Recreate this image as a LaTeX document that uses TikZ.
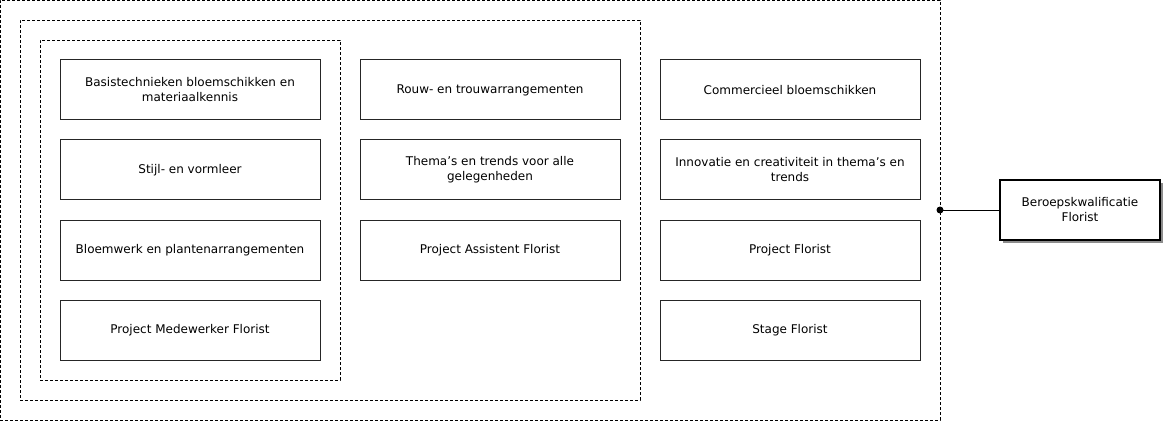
\documentclass[tikz,border=0pt]{standalone}
\usepackage{fontspec}
\setmainfont{DejaVu Sans}
\usetikzlibrary{positioning,fit,shadows}

\tikzset{
  vak/.style={draw=black!85,line width=1pt,fill=white,minimum width=260pt,minimum height=60pt,
    align=center,font=\fontsize{12}{15}\selectfont,inner sep=0pt,outer sep=0pt},
  kader/.style={draw=black,dashed,dash pattern=on 3pt off 2pt,line width=0.8pt,outer sep=0pt},
  kwal/.style={draw=black,line width=2pt,fill=white,minimum width=160pt,minimum height=60pt,
    align=center,font=\fontsize{12}{15}\selectfont,outer sep=0pt,
    drop shadow={shadow xshift=3pt,shadow yshift=-3pt,fill=black!45,opacity=1}},
}

\begin{document}
\begin{tikzpicture}[x=1pt,y=1pt,node distance=20pt]
		\useasboundingbox (0,0) rectangle (1168,-425);
		% eerste kolom
		\node[vak] (basis) at (190,-90) {Basistechnieken bloemschikken en\\materiaalkennis};
		\node[vak,below=of basis] (stijl) {Stijl- en vormleer};
		\node[vak,below=of stijl] (bloemwerk) {Bloemwerk en plantenarrangementen};
		\node[vak,below=of bloemwerk] (medewerker) {Project Medewerker Florist};
		% tweede kolom
		\node[vak,right=40pt of basis] (rouw) {Rouw- en trouwarrangementen};
		\node[vak,below=of rouw] (themas) {Thema’s en trends voor alle\\gelegenheden};
		\node[vak,below=of themas] (assistent) {Project Assistent Florist};
		% derde kolom
		\node[vak,right=40pt of rouw] (commercieel) {Commercieel bloemschikken};
		\node[vak,below=of commercieel] (innovatie) {Innovatie en creativiteit in thema’s en\\trends};
		\node[vak,below=of innovatie] (florist) {Project Florist};
		\node[vak,below=of florist] (stage) {Stage Florist};
		% kaders
		\node[kader,fit=(basis)(medewerker),inner sep=20pt] (niveau2) {};
		\node[kader,fit=(niveau2)(rouw),inner sep=20pt] (niveau3) {};
		\node[kader,fit=(niveau3)(commercieel),inner sep=20pt] (niveau4) {};
		% kwalificatie
		\node[kwal] (beroep) at (1080,-210) {Beroepskwalificatie\\Florist};
		\coordinate (knoop) at (niveau4.east);
		\draw[line width=0.8pt] (knoop) -- (beroep.west);
		\fill (knoop) circle (3.5pt);
	\end{tikzpicture}
\end{document}
